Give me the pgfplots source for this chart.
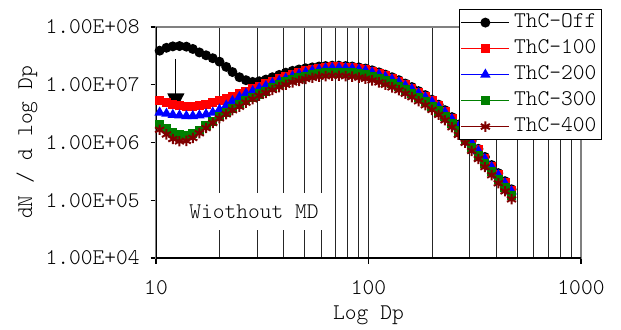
\documentclass[border=0pt]{standalone}
\usepackage{fontspec}
\setmainfont{Latin Modern Mono Light}
\usepackage{pgfplots}
\usepackage{pgfplotstable}
\pgfplotsset{compat=1.18}
\definecolor{xlgreen}{RGB}{0,128,0}
\definecolor{xlmaroon}{RGB}{128,0,0}
\pgfplotstableread{
d off c100 c200 c300 c400
10.4 3.89e7 5.25e6 3.31e6 2.04e6 1.66e6
11.2 4.37e7 4.90e6 3.16e6 1.74e6 1.38e6
12.0 4.62e7 4.57e6 3.02e6 1.48e6 1.15e6
12.9 4.68e7 4.37e6 2.95e6 1.35e6 1.05e6
13.9 4.57e7 4.27e6 2.88e6 1.32e6 1.07e6
14.9 4.17e7 4.27e6 2.88e6 1.41e6 1.20e6
16.0 3.63e7 4.37e6 2.95e6 1.62e6 1.45e6
17.2 3.24e7 4.57e6 3.09e6 1.95e6 1.78e6
18.5 2.88e7 4.90e6 3.31e6 2.34e6 2.19e6
19.9 2.51e7 5.25e6 3.72e6 2.82e6 2.63e6
21.4 2.04e7 5.75e6 4.37e6 3.31e6 3.09e6
22.9 1.66e7 6.31e6 5.25e6 3.89e6 3.63e6
24.7 1.35e7 7.08e6 6.17e6 4.57e6 4.17e6
26.5 1.20e7 7.76e6 7.08e6 5.25e6 4.90e6
28.5 1.12e7 8.51e6 7.76e6 6.03e6 5.62e6
30.6 1.15e7 9.33e6 8.71e6 6.92e6 6.46e6
32.9 1.23e7 1.05e7 9.55e6 7.76e6 7.24e6
35.3 1.35e7 1.15e7 1.07e7 8.91e6 8.13e6
38.0 1.48e7 1.26e7 1.17e7 1.00e7 9.12e6
40.8 1.62e7 1.38e7 1.29e7 1.12e7 1.00e7
43.9 1.74e7 1.51e7 1.41e7 1.23e7 1.10e7
47.1 1.84e7 1.62e7 1.53e7 1.32e7 1.17e7
50.6 1.93e7 1.74e7 1.64e7 1.41e7 1.26e7
54.4 2.00e7 1.84e7 1.76e7 1.51e7 1.32e7
58.5 2.07e7 1.93e7 1.84e7 1.58e7 1.38e7
62.8 2.11e7 2.02e7 1.93e7 1.62e7 1.41e7
67.5 2.14e7 2.04e7 1.97e7 1.66e7 1.43e7
72.6 2.14e7 2.04e7 1.97e7 1.66e7 1.43e7
78.0 2.11e7 2.02e7 1.95e7 1.64e7 1.41e7
83.8 2.07e7 1.97e7 1.91e7 1.60e7 1.38e7
90.1 2.00e7 1.91e7 1.84e7 1.55e7 1.33e7
96.8 1.91e7 1.82e7 1.76e7 1.48e7 1.27e7
104 1.78e7 1.70e7 1.64e7 1.38e7 1.19e7
112 1.64e7 1.57e7 1.51e7 1.27e7 1.10e7
120 1.50e7 1.43e7 1.38e7 1.16e7 1.00e7
129 1.35e7 1.29e7 1.24e7 1.05e7 9.02e6
139 1.20e7 1.15e7 1.11e7 9.33e6 8.04e6
149 1.05e7 1.00e7 9.66e6 8.13e6 7.00e6
160 9.12e6 8.71e6 8.41e6 7.08e6 6.10e6
172 7.76e6 7.41e6 7.16e6 6.03e6 5.19e6
185 6.61e6 6.31e6 6.10e6 5.13e6 4.42e6
199 5.50e6 5.25e6 5.07e6 4.27e6 3.67e6
214 4.52e6 4.32e6 4.17e6 3.51e6 3.02e6
229 3.63e6 3.47e6 3.35e6 2.82e6 2.43e6
247 2.75e6 2.63e6 2.54e6 2.14e6 1.84e6
265 2.04e6 1.95e6 1.88e6 1.58e6 1.36e6
285 1.48e6 1.41e6 1.36e6 1.15e6 9.89e5
306 1.07e6 1.02e6 9.89e5 8.32e5 7.16e5
329 7.76e5 7.41e5 7.16e5 6.03e5 5.19e5
353 5.62e5 5.37e5 5.19e5 4.37e5 3.76e5
380 4.07e5 3.89e5 3.76e5 3.16e5 2.72e5
408 2.95e5 2.82e5 2.72e5 2.29e5 1.97e5
439 2.14e5 2.04e5 1.97e5 1.66e5 1.43e5
471 1.55e5 1.48e5 1.43e5 1.20e5 1.04e5
}\data
\begin{document}
\fontsize{11.2}{13}\selectfont
\begin{tikzpicture}[font=\fontsize{11.2}{13}\selectfont]
\useasboundingbox (-78pt,-35.5pt) rectangle (232.5pt,129pt);
\begin{axis}[
  at={(0pt,0pt)}, anchor=south west,
  scale only axis, width=212.5pt, height=115.5pt,
  xmode=log, ymode=log,
  xmin=10, xmax=1000, ymin=1e4, ymax=1e8,
  xtick={10,100,1000}, xticklabels={10,100,1000},
  ytick={1e4,1e5,1e6,1e7,1e8},
  yticklabels={1.00E+04,1.00E+05,1.00E+06,1.00E+07,1.00E+08},
  yminorticks=false,
  xmajorgrids=true, xminorgrids=true,
  minor tick length=0pt, major tick length=2.75pt,
  tick align=outside, tick pos=left,
  tick style={black, line width=0.6pt},
  major grid style={black!85, line width=0.5pt},
  minor grid style={black!85, line width=0.5pt},
  axis line style={draw=black!50, line width=0.75pt},
  xticklabel style={yshift=-4.4pt},
  yticklabel style={anchor=east, xshift=-1.5pt},
  every axis x label/.style={at={(axis description cs:0.5,-0.2468)}, anchor=center},
  every axis y label/.style={at={(axis description cs:-0.3035,0.5)}, rotate=90, anchor=center},
  xlabel={Log Dp}, ylabel={dN / d log Dp},
  legend style={at={(axis description cs:0.713,1.078)}, anchor=north west,
    draw=black, line width=0.6pt, fill=white, inner xsep=0.5pt, inner ysep=0pt,
    row sep=0pt,
    nodes={inner sep=2pt, text height=7pt, text depth=2pt}},
  legend cell align=left,
  legend image code/.code={\draw[mark repeat=2,mark phase=2,#1] plot coordinates {(0pt,0pt)(12pt,0pt)(24pt,0pt)};},
]
\addplot[black, line width=0.75pt, mark=*, mark size=2.1pt, mark options={solid}] table[x=d,y=off]{\data};
\addplot[red, line width=0.75pt, mark=square*, mark size=1.9pt, mark options={solid}] table[x=d,y=c100]{\data};
\addplot[blue, line width=0.75pt, mark=triangle*, mark size=2.3pt, mark options={solid}] table[x=d,y=c200]{\data};
\addplot[xlgreen, line width=0.75pt, mark=square*, mark size=1.9pt, mark options={solid}] table[x=d,y=c300]{\data};
\addplot[xlmaroon, line width=0.75pt, mark=asterisk, mark size=2.6pt, mark options={solid, line width=1pt}] table[x=d,y=c400]{\data};
\legend{ThC-Off,ThC-100,ThC-200,ThC-300,ThC-400}
\draw[black, line width=1pt] (rel axis cs:0,1) -- (rel axis cs:0,0) -- (rel axis cs:1,0);
\draw[black, line width=0.5pt] (axis cs:12.4,2.8e7) -- ([yshift=8pt]axis cs:12.4,3.6e6);
\fill[black] (axis cs:12.4,3.6e6) -- ++(-4.3pt,8.5pt) -- ++(8.6pt,0pt) -- cycle;
\node[fill=white, minimum width=74pt, minimum height=18.5pt, inner sep=0pt] at (axis cs:28.9,6.4e4) {Wiothout MD};
\end{axis}
\end{tikzpicture}
\end{document}
